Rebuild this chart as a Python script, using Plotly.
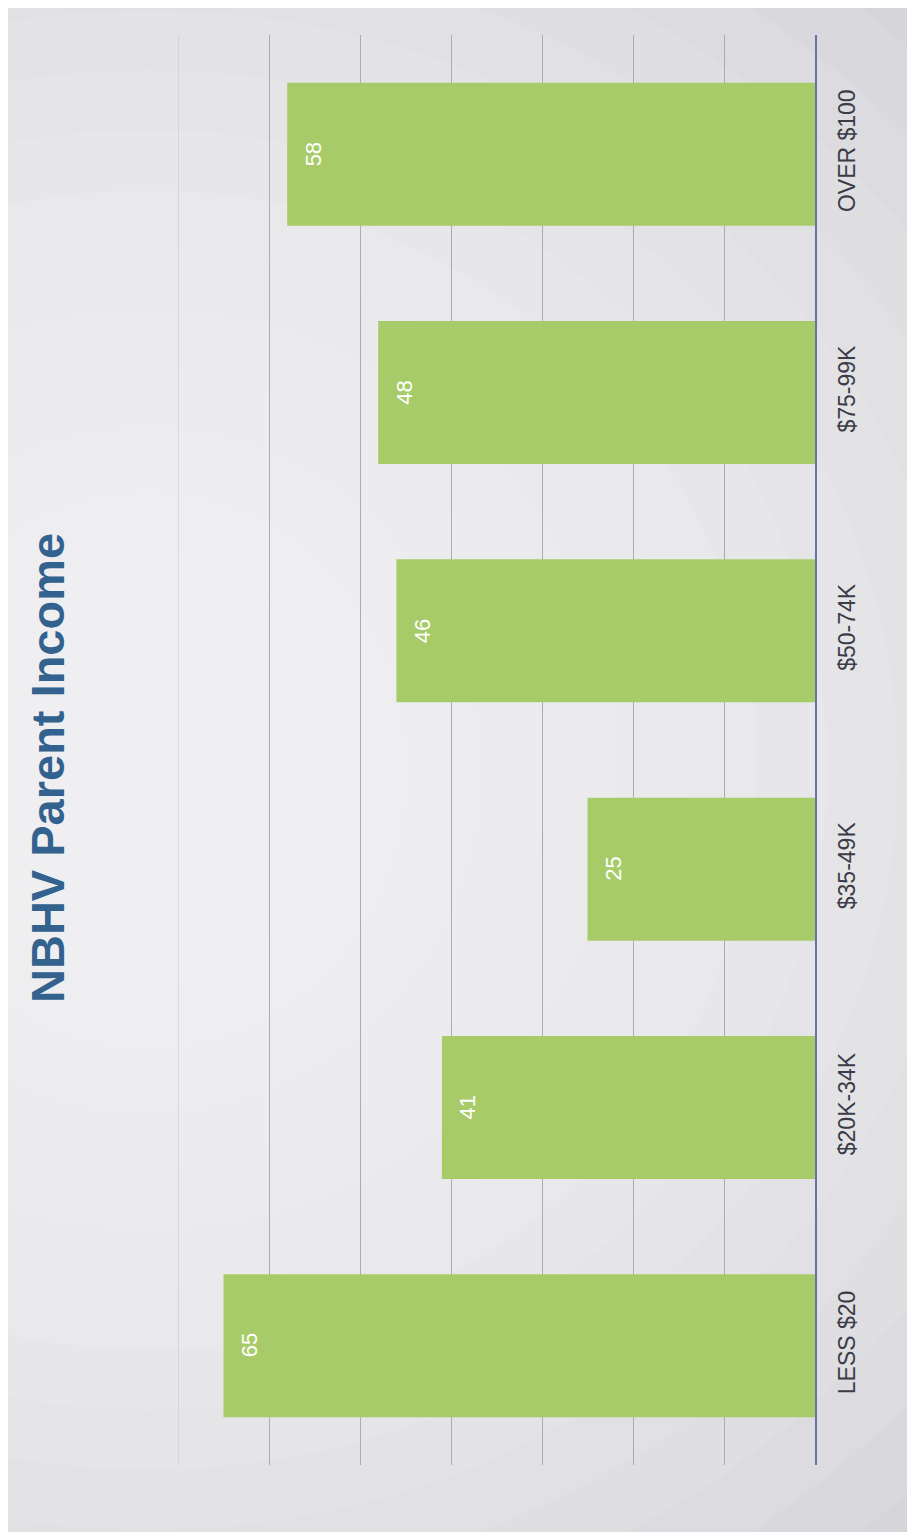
import plotly.graph_objects as go

categories = ["LESS $20", "$20K-34K", "$35-49K", "$50-74K", "$75-99K", "OVER $100"]
values = [65, 41, 25, 46, 48, 58]
chart_title = "NBHV Parent Income"
x_max = 70

# page body has an 8px margin, so the figure is drawn 8px smaller and offset
OFF = 8
W, H = 915 - OFF, 1532 - OFF
L, R, T, B = 178 - OFF, 100, 35 - OFF, 67
pw, ph = W - L - R, H - T - B

fig = go.Figure()
fig.add_trace(go.Bar(
    y=categories, x=values, orientation="h",
    marker=dict(color="#A8CB69", line=dict(width=0)),
    hoverinfo="skip",
))

annotations = []
for c, v in zip(categories, values):
    annotations.append(dict(
        x=v, y=c, xref="x", yref="y", text=str(v), showarrow=False,
        xanchor="center", yanchor="middle", xshift=26, textangle=-90,
        font=dict(family="Arial, Liberation Sans, sans-serif", size=22, color="white"),
    ))

# background glow (paper-pixel based shapes)
shapes = []
cx, cy = 140, 762
n = 14
for i in range(n):
    rx = 1100 - i * 70
    ry = 1000 - i * 60
    shapes.append(dict(
        type="circle", xref="paper", yref="paper", layer="below",
        x0=(cx - rx - L) / pw, x1=(cx + rx - L) / pw,
        y0=(H - B - (cy + ry)) / ph, y1=(H - B - (cy - ry)) / ph,
        fillcolor="rgba(255,255,255,0.085)", line=dict(width=0),
    ))
# faint gridline at the far edge of the value axis
shapes.append(dict(type="line", xref="x", yref="paper", layer="below",
                   x0=x_max, x1=x_max, y0=0, y1=1,
                   line=dict(color="#C6C6CA", width=1)))

annotations.append(dict(
    text="<b>" + chart_title + "</b>",
    xref="paper", yref="paper",
    x=(39 - L) / pw, y=(H - B - 760) / ph,
    xanchor="center", yanchor="middle",
    textangle=-90, showarrow=False,
    font=dict(family="Arial, Liberation Sans, sans-serif", size=47, color="#33628F"),
))

fig.update_layout(
    width=W, height=H,
    margin=dict(l=L, r=R, t=T, b=B, pad=0),
    paper_bgcolor="#D6D6DA",
    plot_bgcolor="rgba(0,0,0,0)",
    bargap=0.4,
    showlegend=False,
    shapes=shapes,
    font=dict(family="Arial, Liberation Sans, sans-serif"),
    annotations=annotations,
)
fig.update_xaxes(
    range=[x_max, 0], dtick=10, showgrid=True, gridcolor="#ABABB0", gridwidth=1,
    showticklabels=False, zeroline=False, showline=False, ticks="",
)
fig.update_yaxes(
    side="right", tickangle=-90, showgrid=False, showline=True,
    linecolor="#6474AA", linewidth=2, ticks="", ticklabelstandoff=10,
    tickfont=dict(family="Arial, Liberation Sans, sans-serif", size=23, color="#3C3C48"),
)

fig.write_html("out.html")
